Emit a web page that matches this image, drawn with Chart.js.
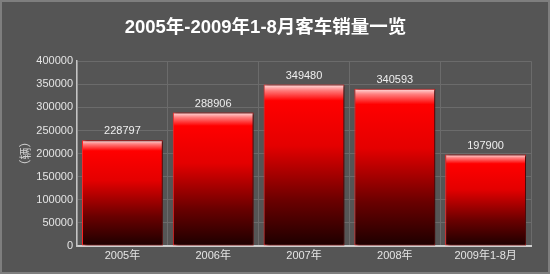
<!DOCTYPE html>
<html>
<head>
<meta charset="utf-8">
<script src="https://cdn.jsdelivr.net/npm/chart.js@4/dist/chart.umd.min.js"></script>
<style>
  html, body { margin: 0; padding: 0; background: #555; }
  #wrap { position: relative; width: 550px; height: 274px; }
  #c { position: absolute; left: 0; top: 0; background: #555555; }
  #frame { position: absolute; left: 0; top: 0; width: 550px; height: 274px; box-sizing: border-box; border: 2px solid #7e7e7e; pointer-events: none; }
</style>
</head>
<body>
<div id="wrap">
  <canvas id="c" width="550" height="274"></canvas>
  <div id="frame"></div>
</div>
<script>
// --- data ---
const categories = ['2005年', '2006年', '2007年', '2008年', '2009年1-8月'];
const sales = [228797, 288906, 349480, 340593, 197900];
const chartTitle = '2005年-2009年1-8月客车销量一览';
const yTitle = '（辆）';

const FONT = '"Liberation Sans", Arial, "Noto Sans CJK SC", sans-serif';
const gridColor = '#6b6b6b';
const textColor = '#e4e4e4';

// per-bar vertical gradient: pale highlight on top, red, fading to near black
function barFill(ctx) {
  const chart = ctx.chart;
  if (!chart.chartArea || ctx.type !== 'data') return '#d00000';
  const y = chart.scales.y;
  const top = y.getPixelForValue(ctx.parsed ? ctx.parsed.y : ctx.raw);
  const base = y.getPixelForValue(0);
  if (!isFinite(top) || !isFinite(base) || base - top < 1) return '#d00000';
  const g = chart.ctx.createLinearGradient(0, top, 0, base);
  g.addColorStop(0, '#ffe4e4');
  g.addColorStop(0.035, '#ff8080');
  g.addColorStop(0.1, '#ff0000');
  g.addColorStop(0.38, '#e40000');
  g.addColorStop(0.72, '#6a0000');
  g.addColorStop(1, '#1c0000');
  return g;
}

// dark drop shadow to the right of each bar
const barShadow = {
  id: 'barShadow',
  beforeDatasetsDraw(chart) {
    const ctx = chart.ctx;
    ctx.save();
    ctx.shadowColor = 'rgba(0,0,0,0.7)';
    ctx.shadowOffsetX = 3;
    ctx.shadowOffsetY = 0;
    ctx.shadowBlur = 2;
  },
  afterDatasetsDraw(chart) {
    chart.ctx.restore();
  }
};

// value labels above the bars
const valueLabels = {
  id: 'valueLabels',
  afterDatasetsDraw(chart) {
    const ctx = chart.ctx;
    const meta = chart.getDatasetMeta(0);
    ctx.save();
    ctx.font = '11px ' + FONT;
    ctx.fillStyle = '#eeeeee';
    ctx.textAlign = 'center';
    ctx.textBaseline = 'middle';
    meta.data.forEach((bar, i) => {
      ctx.fillText(String(sales[i]), bar.x, bar.y - 9);
    });
    ctx.restore();
  }
};

new Chart(document.getElementById('c'), {
  type: 'bar',
  data: {
    labels: categories,
    datasets: [{
      data: sales,
      backgroundColor: barFill,
      borderColor: '#ff2222',
      borderWidth: 1,
      borderSkipped: false,
      categoryPercentage: 1,
      barPercentage: 0.89
    }]
  },
  options: {
    responsive: false,
    animation: false,
    devicePixelRatio: 1,
    layout: { padding: { left: 0, right: 19, top: 0, bottom: 0 } },
    plugins: {
      legend: { display: false },
      tooltip: { enabled: false },
      title: {
        display: true,
        text: chartTitle,
        color: '#ffffff',
        font: { family: FONT, size: 18.5, weight: 'bold', lineHeight: 1.2 },
        padding: { top: 17, bottom: 22 }
      }
    },
    scales: {
      x: {
        grid: { color: gridColor, lineWidth: 1, drawTicks: false, offset: true },
        border: { display: true, color: '#cfcfcf', width: 2 },
        ticks: { color: textColor, font: { family: FONT, size: 11 }, padding: 3, maxRotation: 0 },
        afterFit(scale) { scale.height = 28; }
      },
      y: {
        min: 0,
        max: 400000,
        grid: { color: gridColor, lineWidth: 1, drawTicks: false },
        border: { display: true, color: '#c4c4c4', width: 1.5 },
        ticks: {
          stepSize: 25000,
          color: textColor,
          font: { family: FONT, size: 11 },
          padding: 4,
          callback: v => (v % 50000 === 0 ? String(v) : '')
        },
        title: {
          display: true,
          text: yTitle,
          color: '#cccccc',
          font: { family: FONT, size: 12 },
          padding: { top: 19, bottom: 0 }
        },
        afterFit(scale) { scale.width = 77; }
      }
    }
  },
  plugins: [barShadow, valueLabels]
});
</script>
</body>
</html>
